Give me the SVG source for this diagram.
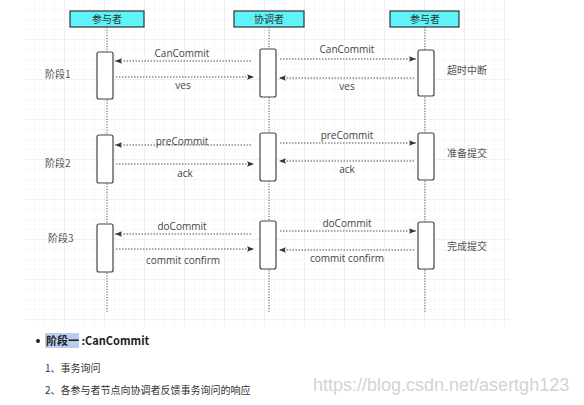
<svg xmlns="http://www.w3.org/2000/svg" width="584" height="405" viewBox="0 0 584 405">
<defs>
<pattern id="grid" x="25" y="0" width="10" height="10" patternUnits="userSpaceOnUse">
<path d="M10 0V10M0 10H10" fill="none" stroke="#f1f1f1" stroke-width="1"/>
</pattern>
<pattern id="grid2" x="25" y="0" width="40" height="40" patternUnits="userSpaceOnUse">
<path d="M40 0V40M0 40H40" fill="none" stroke="#e8e8e8" stroke-width="1"/>
</pattern>
<marker id="ah" viewBox="0 0 10 10" refX="10" refY="5" markerWidth="9" markerHeight="7" markerUnits="userSpaceOnUse" orient="auto">
<path d="M0 1L10 5L0 9L2 5Z" fill="#333"/>
</marker>
<style>
.hdr{fill:#5ff2f8;stroke:#333;stroke-width:1.2}
.ht{font-family:"Noto Sans CJK SC",sans-serif;font-size:10px;fill:#333;text-anchor:middle}
.life{stroke:#555;stroke-width:1;stroke-dasharray:1.2 1.5}
.act{fill:#fff;stroke:#444;stroke-width:1.2}
.msg{stroke:#555;stroke-width:1;stroke-dasharray:1.5 1.5;fill:none;marker-end:url(#ah)}
.ml{font-family:"Open Sans","Liberation Sans",sans-serif;font-size:10px;fill:#444;text-anchor:middle}
.lab{font-family:"Noto Sans CJK SC",sans-serif;font-size:10px;fill:#555}
.body{font-family:"Noto Sans CJK SC",sans-serif;font-size:10px;fill:#333}
</style>
</defs>
<rect width="584" height="405" fill="#fff"/>
<rect x="25" y="0" width="484" height="326" fill="url(#grid)"/>
<rect x="25" y="0" width="484" height="326" fill="url(#grid2)"/>

<g id="lifelines">
<line class="life" x1="107" y1="27" x2="107" y2="313"/>
<line class="life" x1="269" y1="27" x2="269" y2="313"/>
<line class="life" x1="425" y1="27" x2="425" y2="313"/>
</g>

<g id="p1"><rect class="hdr" x="70" y="11" width="74" height="16"/><text class="ht" x="107" y="23">参与者</text></g>
<g id="coord"><rect class="hdr" x="234" y="11" width="70" height="16"/><text class="ht" x="269" y="23">协调者</text></g>
<g id="p2"><rect class="hdr" x="390" y="11" width="69" height="16"/><text class="ht" x="425" y="23">参与者</text></g>

<g id="activations">
<rect class="act" x="97" y="52" width="16" height="47" rx="2"/>
<rect class="act" x="260" y="49" width="16" height="48" rx="2"/>
<rect class="act" x="418" y="50" width="16" height="46" rx="2"/>
<rect class="act" x="97" y="135" width="16" height="48" rx="2"/>
<rect class="act" x="260" y="133" width="16" height="48" rx="2"/>
<rect class="act" x="418" y="133" width="16" height="47" rx="2"/>
<rect class="act" x="97" y="224" width="16" height="48" rx="2"/>
<rect class="act" x="260" y="221" width="16" height="48" rx="2"/>
<rect class="act" x="418" y="222" width="16" height="47" rx="2"/>
</g>

<g id="connectors">
<line class="msg" x1="251" y1="61" x2="115" y2="61"/>
<line class="msg" x1="116" y1="77" x2="254" y2="77"/>
<line class="msg" x1="280" y1="59" x2="416" y2="59"/>
<line class="msg" x1="414" y1="78" x2="279" y2="78"/>
<line class="msg" x1="251" y1="145" x2="115" y2="145"/>
<line class="msg" x1="116" y1="164" x2="254" y2="164"/>
<line class="msg" x1="280" y1="143" x2="416" y2="143"/>
<line class="msg" x1="414" y1="161" x2="279" y2="161"/>
<line class="msg" x1="251" y1="234" x2="115" y2="234"/>
<line class="msg" x1="116" y1="249" x2="254" y2="249"/>
<line class="msg" x1="280" y1="231" x2="416" y2="231"/>
<line class="msg" x1="414" y1="250" x2="279" y2="250"/>
</g>

<g id="msg-labels">
<text class="ml" x="182" y="57">CanCommit</text>
<text class="ml" x="183" y="89">ves</text>
<text class="ml" x="347" y="53">CanCommit</text>
<text class="ml" x="347" y="90">ves</text>
<text class="ml" x="182" y="145">preCommit</text>
<text class="ml" x="185" y="177">ack</text>
<text class="ml" x="347" y="139">preCommit</text>
<text class="ml" x="347" y="173">ack</text>
<text class="ml" x="182" y="230">doCommit</text>
<text class="ml" x="183" y="264">commit confirm</text>
<text class="ml" x="347" y="227">doCommit</text>
<text class="ml" x="347" y="262">commit confirm</text>
</g>

<g id="stage-labels">
<text class="lab" x="45" y="78">阶段1</text>
<text class="lab" x="45" y="167">阶段2</text>
<text class="lab" x="48" y="242">阶段3</text>
<text class="lab" x="447" y="74">超时中断</text>
<text class="lab" x="447" y="157">准备提交</text>
<text class="lab" x="447" y="250">完成提交</text>
</g>

<g id="notes">
<circle cx="38" cy="341" r="2" fill="#222"/>
<rect x="45" y="333" width="34" height="15" fill="#b9cdf0"/>
<text x="46" y="345" font-family="Noto Sans CJK SC,sans-serif" font-size="11" font-weight="bold" fill="#222">阶段一 :CanCommit</text>
<text class="body" x="45" y="372">1、事务询问</text>
<text class="body" x="45" y="394">2、各参与者节点向协调者反馈事务询问的响应</text>
<text x="313" y="391" font-family="Liberation Sans,sans-serif" font-size="18" fill="#d3d3d3">https://blog.csdn.net/asertgh123</text>
</g>
</svg>
